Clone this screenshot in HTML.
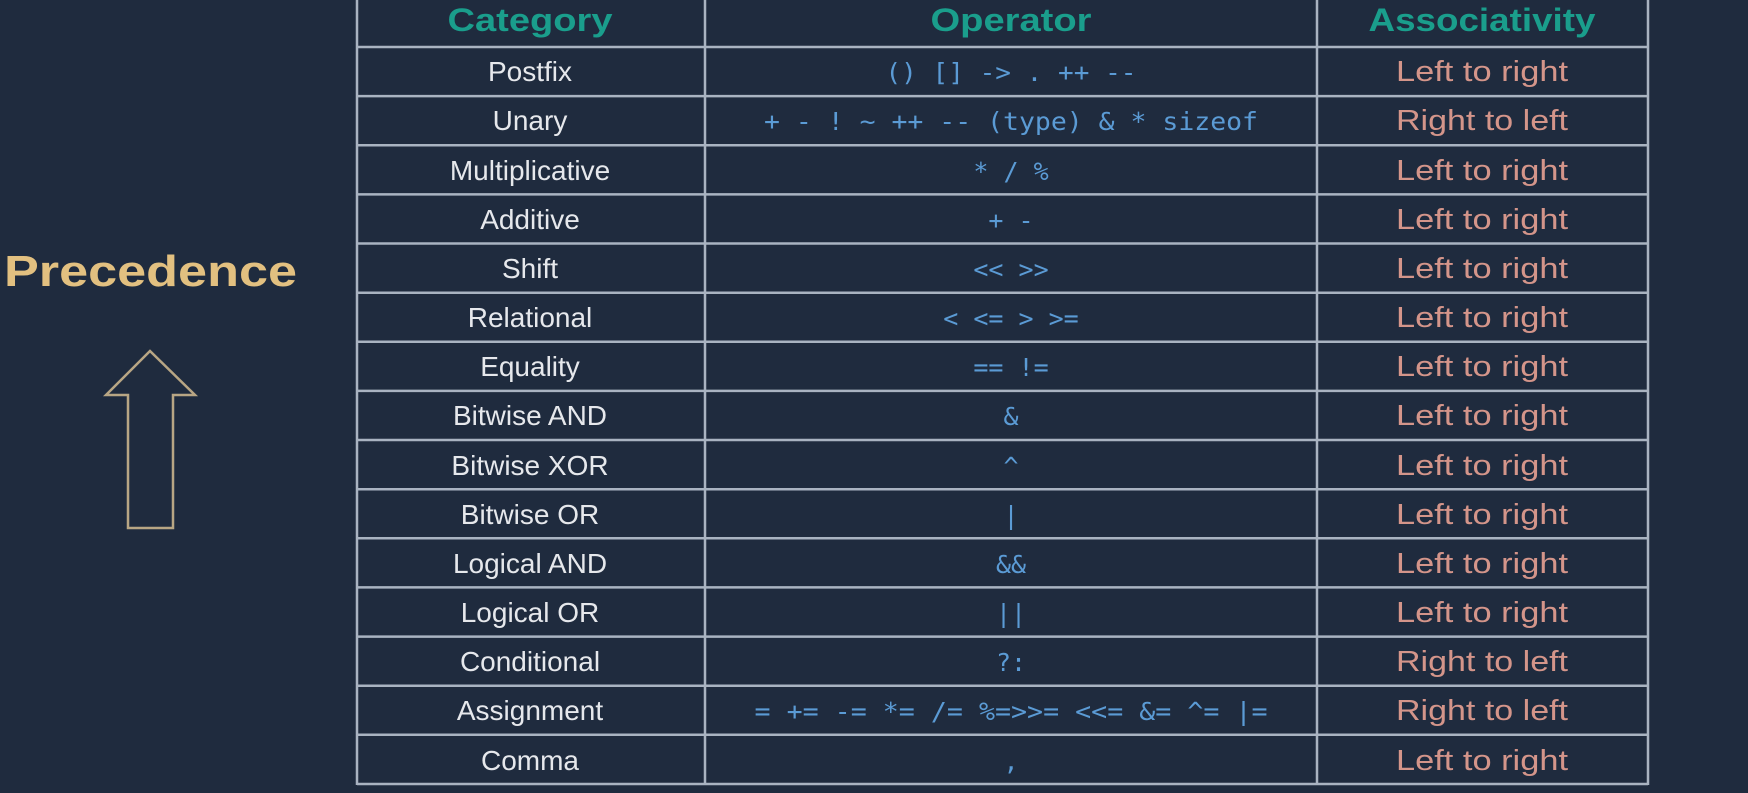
<!DOCTYPE html>
<html><head><meta charset="utf-8"><style>
html,body{margin:0;padding:0;background:#1f2b3e;}
svg{display:block;}
</style></head><body>
<svg width="1748" height="793" viewBox="0 0 1748 793" xmlns="http://www.w3.org/2000/svg">
<rect width="1748" height="793" fill="#1f2b3e"/>
<text x="4" y="286" font-family="Liberation Sans, sans-serif" font-weight="bold" font-size="44" fill="#e2c080" textLength="293" lengthAdjust="spacingAndGlyphs">Precedence</text>
<polygon points="150,351 195,395 173,395 173,528 128,528 128,395 106,395" fill="none" stroke="#b8a684" stroke-width="2.5"/>
<g stroke="#a9b3c1" stroke-width="2.5" fill="none">
<line x1="357" y1="0" x2="357" y2="785"/>
<line x1="705" y1="0" x2="705" y2="785"/>
<line x1="1317" y1="0" x2="1317" y2="785"/>
<line x1="1648" y1="0" x2="1648" y2="785"/>
<line x1="357" y1="47" x2="1648" y2="47"/>
<line x1="357" y1="96.1" x2="1648" y2="96.1"/>
<line x1="357" y1="145.3" x2="1648" y2="145.3"/>
<line x1="357" y1="194.4" x2="1648" y2="194.4"/>
<line x1="357" y1="243.5" x2="1648" y2="243.5"/>
<line x1="357" y1="292.7" x2="1648" y2="292.7"/>
<line x1="357" y1="341.8" x2="1648" y2="341.8"/>
<line x1="357" y1="390.9" x2="1648" y2="390.9"/>
<line x1="357" y1="440" x2="1648" y2="440"/>
<line x1="357" y1="489.2" x2="1648" y2="489.2"/>
<line x1="357" y1="538.3" x2="1648" y2="538.3"/>
<line x1="357" y1="587.4" x2="1648" y2="587.4"/>
<line x1="357" y1="636.6" x2="1648" y2="636.6"/>
<line x1="357" y1="685.7" x2="1648" y2="685.7"/>
<line x1="357" y1="734.8" x2="1648" y2="734.8"/>
<line x1="357" y1="784" x2="1648" y2="784"/>
</g>
<g font-family="Liberation Sans, sans-serif" font-weight="bold" font-size="32" fill="#1a9e8c" text-anchor="middle">
<text x="530" y="31" textLength="165" lengthAdjust="spacingAndGlyphs">Category</text>
<text x="1011" y="31" textLength="161" lengthAdjust="spacingAndGlyphs">Operator</text>
<text x="1482" y="31" textLength="227" lengthAdjust="spacingAndGlyphs">Associativity</text>
</g>
<g font-family="Liberation Sans, sans-serif" font-size="28" fill="#e6e8ec" text-anchor="middle">
<text x="530" y="81">Postfix</text>
<text x="530" y="130">Unary</text>
<text x="530" y="180">Multiplicative</text>
<text x="530" y="229">Additive</text>
<text x="530" y="278">Shift</text>
<text x="530" y="327">Relational</text>
<text x="530" y="376">Equality</text>
<text x="530" y="425">Bitwise AND</text>
<text x="530" y="475">Bitwise XOR</text>
<text x="530" y="524">Bitwise OR</text>
<text x="530" y="573">Logical AND</text>
<text x="530" y="622">Logical OR</text>
<text x="530" y="671">Conditional</text>
<text x="530" y="720">Assignment</text>
<text x="530" y="770">Comma</text>
</g>
<g font-family="DejaVu Sans Mono, Liberation Mono, monospace" font-size="25" fill="#5b9bd5" text-anchor="middle" xml:space="preserve">
<text x="1011" y="81" textLength="251" lengthAdjust="spacingAndGlyphs">() [] -&gt; . ++ --</text>
<text x="1011" y="130" textLength="494" lengthAdjust="spacingAndGlyphs">+ - ! ~ ++ -- (type) &amp; * sizeof</text>
<text x="1011" y="180">* / %</text>
<text x="1011" y="229">+ -</text>
<text x="1011" y="278">&lt;&lt; &gt;&gt;</text>
<text x="1011" y="327">&lt; &lt;= &gt; &gt;=</text>
<text x="1011" y="376">== !=</text>
<text x="1011" y="425">&amp;</text>
<text x="1011" y="475">^</text>
<text x="1011" y="524">|</text>
<text x="1011" y="573">&amp;&amp;</text>
<text x="1011" y="622">||</text>
<text x="1011" y="671">?:</text>
<text x="1011" y="720" textLength="513" lengthAdjust="spacingAndGlyphs">=  +=  -=  *=  /=  %=&gt;&gt;=  &lt;&lt;=  &amp;=  ^=  |=</text>
<text x="1011" y="770">,</text>
</g>
<g font-family="Liberation Sans, sans-serif" font-size="29" fill="#d4958a" text-anchor="middle">
<text x="1482" y="81" textLength="172" lengthAdjust="spacingAndGlyphs">Left to right</text>
<text x="1482" y="130" textLength="172" lengthAdjust="spacingAndGlyphs">Right to left</text>
<text x="1482" y="180" textLength="172" lengthAdjust="spacingAndGlyphs">Left to right</text>
<text x="1482" y="229" textLength="172" lengthAdjust="spacingAndGlyphs">Left to right</text>
<text x="1482" y="278" textLength="172" lengthAdjust="spacingAndGlyphs">Left to right</text>
<text x="1482" y="327" textLength="172" lengthAdjust="spacingAndGlyphs">Left to right</text>
<text x="1482" y="376" textLength="172" lengthAdjust="spacingAndGlyphs">Left to right</text>
<text x="1482" y="425" textLength="172" lengthAdjust="spacingAndGlyphs">Left to right</text>
<text x="1482" y="475" textLength="172" lengthAdjust="spacingAndGlyphs">Left to right</text>
<text x="1482" y="524" textLength="172" lengthAdjust="spacingAndGlyphs">Left to right</text>
<text x="1482" y="573" textLength="172" lengthAdjust="spacingAndGlyphs">Left to right</text>
<text x="1482" y="622" textLength="172" lengthAdjust="spacingAndGlyphs">Left to right</text>
<text x="1482" y="671" textLength="172" lengthAdjust="spacingAndGlyphs">Right to left</text>
<text x="1482" y="720" textLength="172" lengthAdjust="spacingAndGlyphs">Right to left</text>
<text x="1482" y="770" textLength="172" lengthAdjust="spacingAndGlyphs">Left to right</text>
</g>
</svg>
</body></html>
